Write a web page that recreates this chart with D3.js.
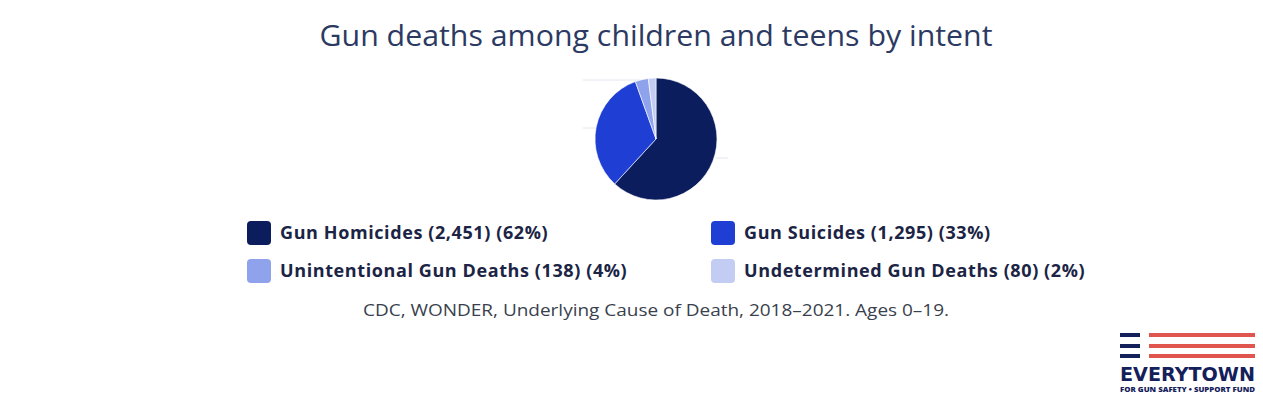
<!DOCTYPE html>
<html>
<head>
<meta charset="utf-8">
<script src="https://cdn.jsdelivr.net/npm/d3@7"></script>
<style>
  body { margin: 0; background: #fff; }
  svg { display: block; font-family: "Open Sans", "Noto Sans", sans-serif; }
</style>
</head>
<body>
<svg id="chart" width="1263" height="399"></svg>
<script>
const categories = ["Gun Homicides", "Gun Suicides", "Unintentional Gun Deaths", "Undetermined Gun Deaths"];
const deaths = [2451, 1295, 138, 80];
const percents = ["62%", "33%", "4%", "2%"];
const colors = ["#0c1d5e", "#1f3ed4", "#8ea3ec", "#c3cdf3"];

const title = "Gun deaths among children and teens by intent";
const source = "CDC, WONDER, Underlying Cause of Death, 2018\u20132021. Ages 0\u201319.";

const data = categories.map((c, i) => ({ name: c, value: deaths[i], pct: percents[i], color: colors[i] }));

const svg = d3.select("#chart");
const cx = 656, cy = 139, r = 61;

svg.append("text")
    .attr("x", cx)
    .attr("y", 46)
    .attr("text-anchor", "middle")
    .attr("font-size", 30)
    .attr("font-weight", 400)
    .attr("textLength", 673)
    .attr("lengthAdjust", "spacingAndGlyphs")
    .attr("fill", "#2c3a63")
    .text(title);

// faint guide lines peeking out behind the pie
const guides = [[583, 640, 80], [583, 596, 128], [716, 728, 158]];
svg.selectAll(".guide")
    .data(guides)
    .enter()
    .append("line")
    .attr("class", "guide")
    .attr("x1", d => d[0])
    .attr("x2", d => d[1])
    .attr("y1", d => d[2])
    .attr("y2", d => d[2])
    .attr("stroke", "#e3e6ef")
    .attr("stroke-width", 1);

const pie = d3.pie().sort(null).value(d => d.value);
const arc = d3.arc().innerRadius(0).outerRadius(r);

svg.append("g")
    .attr("transform", `translate(${cx},${cy})`)
    .selectAll("path")
    .data(pie(data))
    .enter()
    .append("path")
    .attr("d", arc)
    .attr("fill", d => d.data.color)
    .attr("stroke", "#fff")
    .attr("stroke-width", 0.6);

// legend, two columns
const colX = d3.scaleOrdinal().domain([0, 1]).range([247, 711]);
const rowY = d3.scaleOrdinal().domain([0, 1]).range([221, 259]);

const item = svg.selectAll(".legend")
    .data(data)
    .enter()
    .append("g")
    .attr("class", "legend")
    .attr("transform", (d, i) => `translate(${colX(i % 2)},${rowY(Math.floor(i / 2))})`);

item.append("rect")
    .attr("width", 24)
    .attr("height", 24)
    .attr("rx", 4)
    .attr("fill", d => d.color);

item.append("text")
    .attr("x", 33)
    .attr("y", 17.5)
    .attr("font-size", 18)
    .attr("font-weight", 700)
    .attr("letter-spacing", 0.6)
    .attr("fill", "#1b2444")
    .text(d => `${d.name} (${d3.format(",")(d.value)}) (${d.pct})`);

svg.append("text")
    .attr("x", cx)
    .attr("y", 316)
    .attr("text-anchor", "middle")
    .attr("font-size", 16)
    .attr("textLength", 586)
    .attr("lengthAdjust", "spacingAndGlyphs")
    .attr("fill", "#3a3f4e")
    .text(source);

// Everytown logo
const logo = svg.append("g").attr("transform", "translate(1120,333)");
[0, 11, 21].forEach(y => {
    logo.append("rect").attr("x", 0).attr("y", y).attr("width", 20).attr("height", 4).attr("fill", "#14205a");
    logo.append("rect").attr("x", 29).attr("y", y).attr("width", 106).attr("height", 4).attr("fill", "#e0564f");
});
logo.append("text")
    .attr("x", 67.5)
    .attr("y", 48)
    .attr("text-anchor", "middle")
    .attr("font-family", "'DejaVu Sans', sans-serif")
    .attr("font-size", 20)
    .attr("font-weight", 900)
    .attr("textLength", 135)
    .attr("lengthAdjust", "spacingAndGlyphs")
    .attr("fill", "#14205a")
    .text("EVERYTOWN");
logo.append("text")
    .attr("x", 67.5)
    .attr("y", 59)
    .attr("text-anchor", "middle")
    .attr("font-size", 6)
    .attr("font-weight", 800)
    .attr("textLength", 135)
    .attr("lengthAdjust", "spacingAndGlyphs")
    .attr("fill", "#14205a")
    .text("FOR GUN SAFETY \u2022 SUPPORT FUND");
</script>
</body>
</html>
